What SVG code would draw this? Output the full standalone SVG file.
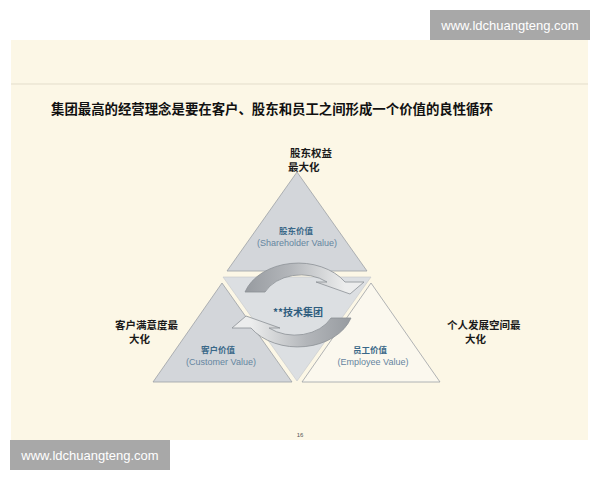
<svg xmlns="http://www.w3.org/2000/svg" width="600" height="480" viewBox="0 0 600 480">
  <style>
    .cjk { font-family: "Noto Sans CJK SC", "Liberation Sans", sans-serif; }
    .lat { font-family: "Liberation Sans", "Noto Sans CJK SC", sans-serif; }
    .side { font-size: 10.5px; font-weight: bold; fill: #1a1a1a; }
    .vcn { font-size: 8.5px; font-weight: bold; fill: #3a6888; text-anchor: middle; }
    .ven { font-size: 9px; fill: #6585a0; text-anchor: middle; }
    .tri { fill: #d3d6da; stroke: #9da1a6; stroke-width: 0.8; }
    .wm { fill: #a8a8a8; }
    .wmt { font-size: 13px; fill: #ffffff; text-anchor: middle; }
    .arrow { stroke: #8c9095; stroke-width: 0.8; }
  </style>
  <defs>
    <linearGradient id="gUp" gradientUnits="userSpaceOnUse" x1="245" y1="0" x2="345" y2="0">
      <stop offset="0" stop-color="#979ba0"/>
      <stop offset="0.45" stop-color="#b3b6ba"/>
      <stop offset="1" stop-color="#eceded"/>
    </linearGradient>
    <linearGradient id="gDn" gradientUnits="userSpaceOnUse" x1="351" y1="0" x2="251" y2="0">
      <stop offset="0" stop-color="#979ba0"/>
      <stop offset="0.45" stop-color="#b3b6ba"/>
      <stop offset="1" stop-color="#eceded"/>
    </linearGradient>
  </defs>

  <rect x="0" y="0" width="600" height="480" fill="#ffffff"/>
  <rect x="11" y="40" width="577" height="400" fill="#fcf7e6"/>
  <line x1="11" y1="84" x2="588" y2="84" stroke="#e3ddcb" stroke-width="1"/>

  <g id="watermark-top">
    <rect class="wm" x="430" y="10" width="160" height="30"/>
    <text class="lat wmt" x="510" y="29.5">www.ldchuangteng.com</text>
  </g>
  <g id="watermark-bottom">
    <rect class="wm" x="10" y="440" width="160" height="30"/>
    <text class="lat wmt" x="90" y="459.5">www.ldchuangteng.com</text>
  </g>

  <text id="title" class="cjk" x="51" y="113.5" font-size="13.4" font-weight="bold" fill="#111111">集团最高的经营理念是要在客户、股东和员工之间形成一个价值的良性循环</text>

  <g id="center">
    <polygon points="223,277 371,277 297,381" fill="#dcdfe2" stroke="#c4c7cb" stroke-width="0.6"/>
  </g>

  <g id="shareholder">
    <polygon class="tri" points="297,172 367,271 227,271"/>
    <text class="cjk vcn" x="296" y="234">股东价值</text>
    <text class="lat ven" x="297" y="245.5">(Shareholder Value)</text>
    <text class="cjk side" x="290" y="157">股东权益</text>
    <text class="cjk side" x="288" y="171">最大化</text>
  </g>

  <g id="customer">
    <polygon class="tri" points="222,283 292,382 153,382"/>
    <text class="cjk vcn" x="218" y="353">客户价值</text>
    <text class="lat ven" x="221" y="364.5">(Customer Value)</text>
    <text class="cjk side" x="115" y="328.5">客户满意度最</text>
    <text class="cjk side" x="129" y="342.5">大化</text>
  </g>

  <g id="employee">
    <polygon points="371,283 440,382 302,382" fill="#fbf8ee" stroke="#9da1a6" stroke-width="0.8"/>
    <text class="cjk vcn" x="370" y="353">员工价值</text>
    <text class="lat ven" x="373" y="364.5">(Employee Value)</text>
    <text class="cjk side" x="447" y="328.5">个人发展空间最</text>
    <text class="cjk side" x="465" y="342.5">大化</text>
  </g>

  <g id="connectors">
    <path class="arrow" fill="url(#gUp)" d="M245,292 A56,42 0 0 1 345,282 L364,282 L350,294 L316,282 L327,282 A40,30 0 0 0 265,292 Z"/>
    <path class="arrow" fill="url(#gDn)" d="M351,318 A56,42 0 0 1 251,328 L232,328 L246,316 L280,328 L269,328 A40,30 0 0 0 331,318 Z"/>
  </g>

  <text id="center-label" class="cjk" x="298" y="315.5" font-size="10" font-weight="bold" fill="#2f5d7e" text-anchor="middle">**技术集团</text>

  <text id="page" class="lat" x="300" y="437" font-size="6" fill="#555555" text-anchor="middle">16</text>
</svg>
